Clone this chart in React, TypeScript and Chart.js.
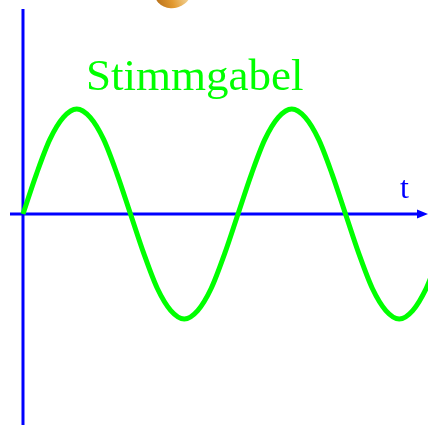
import React, { useEffect, useRef } from "react";
import { Chart, registerables } from "chart.js";

Chart.register(...registerables);

// phase (degrees) of the tuning-fork oscillation and the displacement
const phases = [
  0, 22.5, 45, 67.5, 90, 112.5, 135, 157.5, 180, 202.5, 225, 247.5, 270, 292.5, 315, 337.5,
  360, 382.5, 405, 427.5, 450, 472.5, 495, 517.5, 540, 562.5, 585, 607.5, 630, 652.5, 675, 690,
];
const displacement = [
  0, 0.38, 0.71, 0.92, 1, 0.92, 0.71, 0.38, 0, -0.38, -0.71, -0.92, -1, -0.92, -0.71, -0.38,
  0, 0.38, 0.71, 0.92, 1, 0.92, 0.71, 0.38, 0, -0.38, -0.71, -0.92, -1, -0.92, -0.71, -0.5,
];
const titleText = "Stimmgabel";
const axisLabel = "t";

const GREEN = "#00ff00";
const BLUE = "#0000ff";

const X_MIN = -38.5;
const X_MAX = 678.1;
const Y_MAX = 2.038;
const Y_MIN = -2.01;

const overlayPlugin = {
  id: "overlay",
  beforeDatasetsDraw(chart: any) {
    const { ctx, scales } = chart;
    const xs = scales.x;
    const ys = scales.y;
    const x0 = xs.getPixelForValue(0);
    const y0 = ys.getPixelForValue(0);
    const W = chart.width;
    const H = chart.height;
    ctx.save();

    // decorative tuning-fork tip at top
    ctx.save();
    ctx.beginPath();
    ctx.rect(0, 0, W, 9);
    ctx.clip();
    const g = ctx.createLinearGradient(155, 8, 190, -4);
    g.addColorStop(0, "#b06a18");
    g.addColorStop(0.5, "#e39a30");
    g.addColorStop(1, "#f3dba6");
    ctx.fillStyle = g;
    ctx.beginPath();
    ctx.ellipse(173, -9, 19, 17, -0.3, 0, Math.PI * 2);
    ctx.fill();
    ctx.restore();

    // axes
    ctx.strokeStyle = BLUE;
    ctx.lineWidth = 3;
    ctx.beginPath();
    ctx.moveTo(x0, 9);
    ctx.lineTo(x0, H);
    ctx.moveTo(10, y0);
    ctx.lineTo(W - 6, y0);
    ctx.stroke();
    ctx.fillStyle = BLUE;
    ctx.beginPath();
    ctx.moveTo(W, y0);
    ctx.lineTo(W - 11, y0 - 4.5);
    ctx.lineTo(W - 11, y0 + 4.5);
    ctx.closePath();
    ctx.fill();

    // texts
    ctx.textAlign = "left";
    ctx.textBaseline = "alphabetic";
    ctx.fillStyle = GREEN;
    ctx.font = '45px "Liberation Serif", "DejaVu Serif", serif';
    ctx.fillText(titleText, 86, 90);
    ctx.fillStyle = BLUE;
    ctx.font = '32px "Liberation Serif", "DejaVu Serif", serif';
    ctx.fillText(axisLabel, 400, 198);
    ctx.restore();
  },
};

export default function App() {
  const canvasRef = useRef<HTMLCanvasElement | null>(null);

  useEffect(() => {
    document.body.style.margin = "0";
    const canvas = canvasRef.current;
    if (!canvas) return;
    const chart = new Chart(canvas, {
      type: "line",
      data: {
        datasets: [
          {
            data: phases.map((p, i) => ({ x: p, y: displacement[i] })),
            borderColor: GREEN,
            borderWidth: 5,
            pointRadius: 0,
            cubicInterpolationMode: "monotone",
            fill: false,
          },
        ],
      },
      options: {
        animation: false,
        responsive: false,
        maintainAspectRatio: false,
        layout: { padding: 0 },
        plugins: {
          legend: { display: false },
          title: { display: false },
          tooltip: { enabled: false },
        },
        scales: {
          x: { type: "linear", min: X_MIN, max: X_MAX, display: false },
          y: { type: "linear", min: Y_MIN, max: Y_MAX, display: false },
        },
      },
      plugins: [overlayPlugin],
    });
    return () => chart.destroy();
  }, []);

  return (
    <div style={{ width: 428, height: 425, background: "#ffffff" }}>
      <canvas ref={canvasRef} width={428} height={425} style={{ display: "block" }} />
    </div>
  );
}
